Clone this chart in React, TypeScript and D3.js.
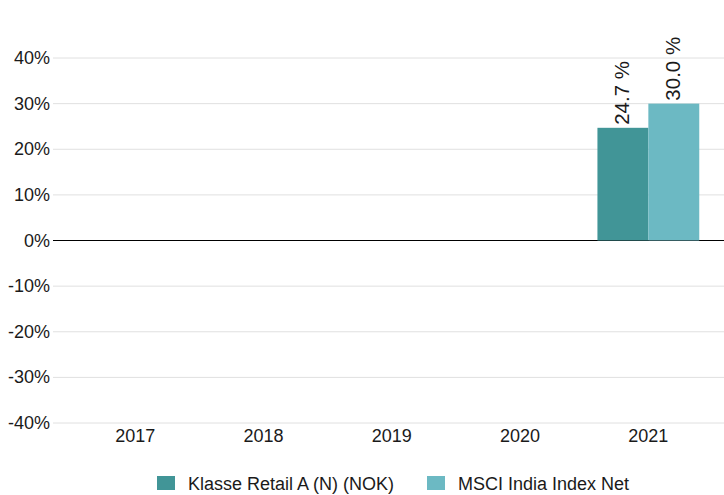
import React, { useEffect, useRef } from 'react'
import * as d3 from 'd3'

const years = ['2017', '2018', '2019', '2020', '2021']
const fundReturns: (number | null)[] = [null, null, null, null, 24.7]
const indexReturns: (number | null)[] = [null, null, null, null, 30.0]
const seriesNames = ['Klasse Retail A (N) (NOK)', 'MSCI India Index Net']
const seriesColors = ['#419597', '#6cb9c3']
const yTicks = [40, 30, 20, 10, 0, -10, -20, -30, -40]

const W = 724
const H = 495
const FONT = '"Liberation Sans", Arial, sans-serif'

export default function App() {
  const ref = useRef<SVGSVGElement | null>(null)

  useEffect(() => {
    if (!ref.current) return
    const svg = d3.select(ref.current)
    svg.selectAll('*').remove()

    const y = d3.scaleLinear().domain([-40, 40]).range([423, 58])
    const x = d3.scaleBand().domain(years).range([71, 712.5])
    const inner = d3
      .scaleBand()
      .domain(['0', '1'])
      .range([0, x.bandwidth()])
      .paddingOuter(0.26)

    // grid
    svg
      .append('g')
      .selectAll('line')
      .data(yTicks)
      .join('line')
      .attr('x1', 53)
      .attr('x2', W)
      .attr('y1', (d) => y(d))
      .attr('y2', (d) => y(d))
      .attr('stroke', (d) => (d === 0 ? '#000' : '#e0e0e0'))
      .attr('stroke-width', 1)

    svg
      .append('g')
      .selectAll('text')
      .data(yTicks)
      .join('text')
      .attr('x', 50)
      .attr('y', (d) => y(d) + 6)
      .attr('text-anchor', 'end')
      .attr('font-family', FONT)
      .attr('font-size', 18)
      .attr('fill', '#1a1a1a')
      .text((d) => `${d}%`)

    svg
      .append('g')
      .selectAll('text')
      .data(years)
      .join('text')
      .attr('x', (d) => (x(d) || 0) + x.bandwidth() / 2)
      .attr('y', 442)
      .attr('text-anchor', 'middle')
      .attr('font-family', FONT)
      .attr('font-size', 18)
      .attr('fill', '#1a1a1a')
      .text((d) => d)

    const series = [fundReturns, indexReturns]
    series.forEach((vals, si) => {
      const pts = years
        .map((yr, i) => ({ yr, v: vals[i] }))
        .filter((p) => p.v !== null) as { yr: string; v: number }[]
      const g = svg.append('g')
      g.selectAll('rect')
        .data(pts)
        .join('rect')
        .attr('x', (d) => (x(d.yr) || 0) + (inner(String(si)) || 0))
        .attr('width', inner.bandwidth())
        .attr('y', (d) => y(Math.max(0, d.v)))
        .attr('height', (d) => Math.abs(y(d.v) - y(0)))
        .attr('fill', seriesColors[si])
      g.selectAll('text')
        .data(pts)
        .join('text')
        .attr('transform', (d) => {
          const cx = (x(d.yr) || 0) + (inner(String(si)) || 0) + inner.bandwidth() / 2
          return `translate(${cx + 6},${y(d.v) - 3}) rotate(-90)`
        })
        .attr('font-family', FONT)
        .attr('font-size', 20.5)
        .attr('fill', '#1a1a1a')
        .text((d) => `${d.v.toFixed(1)} %`)
    })

    // legend
    const legendX = [157, 427]
    seriesNames.forEach((name, i) => {
      svg
        .append('rect')
        .attr('x', legendX[i])
        .attr('y', 476)
        .attr('width', 18)
        .attr('height', 14)
        .attr('fill', seriesColors[i])
      svg
        .append('text')
        .attr('x', legendX[i] + 31)
        .attr('y', 490)
        .attr('font-family', FONT)
        .attr('font-size', 18)
        .attr('fill', '#1a1a1a')
        .text(name)
    })
  }, [])

  return (
    <svg
      ref={ref}
      width={W}
      height={H}
      style={{ position: 'absolute', left: 0, top: 0, background: '#fff' }}
    />
  )
}
